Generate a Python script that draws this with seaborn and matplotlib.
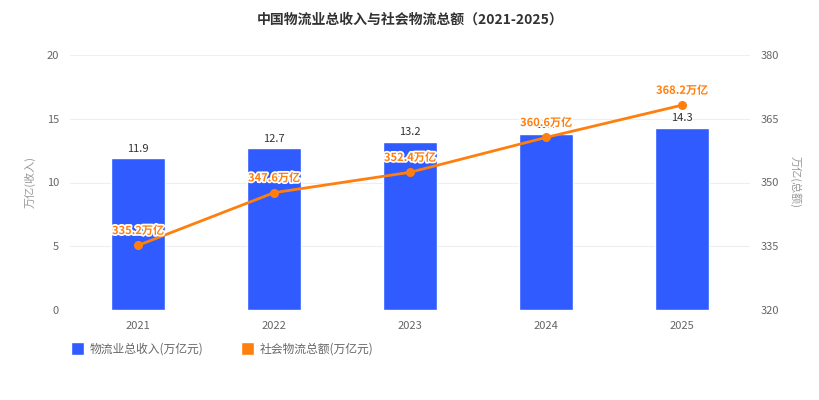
import pandas as pd
import matplotlib
matplotlib.use("Agg")
import matplotlib.pyplot as plt
import matplotlib.patheffects as pe
from matplotlib.patches import Patch
import seaborn as sns

sns.set_style("white")
plt.rcParams["font.family"] = ["Noto Sans CJK SC", "DejaVu Sans"]

# data
years = ["2021", "2022", "2023", "2024", "2025"]
revenue = [11.9, 12.7, 13.2, 13.8, 14.3]
total = [335.2, 347.6, 352.4, 360.6, 368.2]

bar_color = "#2F5BFF"
line_color = "#FF7F0E"
grey = "#666666"

df = pd.DataFrame({"year": years, "revenue": revenue, "total": total})

fig = plt.figure(figsize=(8.2, 4), dpi=100)
ax = fig.add_axes([70 / 820, 1 - 310 / 400, 680 / 820, 255 / 400])

sns.barplot(data=df, x="year", y="revenue", color=bar_color, width=0.4,
            saturation=1, ax=ax, zorder=2)
ax.set_ylim(0, 20)
ax.set_yticks([0, 5, 10, 15, 20])
ax.grid(axis="y", color="#eeeeee", linewidth=0.8, zorder=0)
ax.set_axisbelow(True)
for s in ax.spines.values():
    s.set_visible(False)
ax.tick_params(axis="both", length=0, labelsize=8, colors=grey, pad=8)
ax.set_xlabel("")
ax.set_ylabel("万亿(收入)", fontsize=8, color="#999999", labelpad=8)

for i, v in enumerate(revenue):
    ax.text(i, v + 0.35, f"{v}", ha="center", va="bottom", fontsize=8,
            color="#333333", zorder=3)

ax2 = ax.twinx()
sns.pointplot(data=df, x="year", y="total", color=line_color, ax=ax2,
              markers="o", markersize=5, linewidth=2, zorder=5)
ax2.set_ylim(320, 380)
ax2.set_yticks([320, 335, 350, 365, 380])
for s in ax2.spines.values():
    s.set_visible(False)
ax2.tick_params(axis="y", length=0, labelsize=8, colors=grey, pad=8)
ax2.set_xlabel("")
ax2.set_ylabel("万亿(总额)", fontsize=8, color="#999999", rotation=270,
               labelpad=16)
ax2.set_xlim(-0.5, 4.5)
ax.set_xlim(-0.5, 4.5)

for i, v in enumerate(total):
    ax2.annotate(f"{v}万亿", (i, v), xytext=(0, 6), textcoords="offset points",
                 ha="center", va="bottom", fontsize=8, fontweight="bold",
                 color=line_color, zorder=6,
                 path_effects=[pe.withStroke(linewidth=2.5, foreground="white")])

fig.suptitle("中国物流业总收入与社会物流总额（2021-2025）", y=1 - 20 / 400,
             fontsize=10, fontweight="bold", color="#333333", va="center")

handles = [Patch(facecolor=bar_color, label="物流业总收入(万亿元)"),
           Patch(facecolor=line_color, label="社会物流总额(万亿元)")]
leg = fig.legend(handles=handles, loc="center left",
                 bbox_to_anchor=(60 / 820, 1 - 349 / 400), ncol=2,
                 frameon=False, fontsize=8.5, handlelength=1.1,
                 handleheight=1.3, handletextpad=0.5, columnspacing=3.2)
for t in leg.get_texts():
    t.set_color(grey)

fig.savefig("out.png", dpi=100)
